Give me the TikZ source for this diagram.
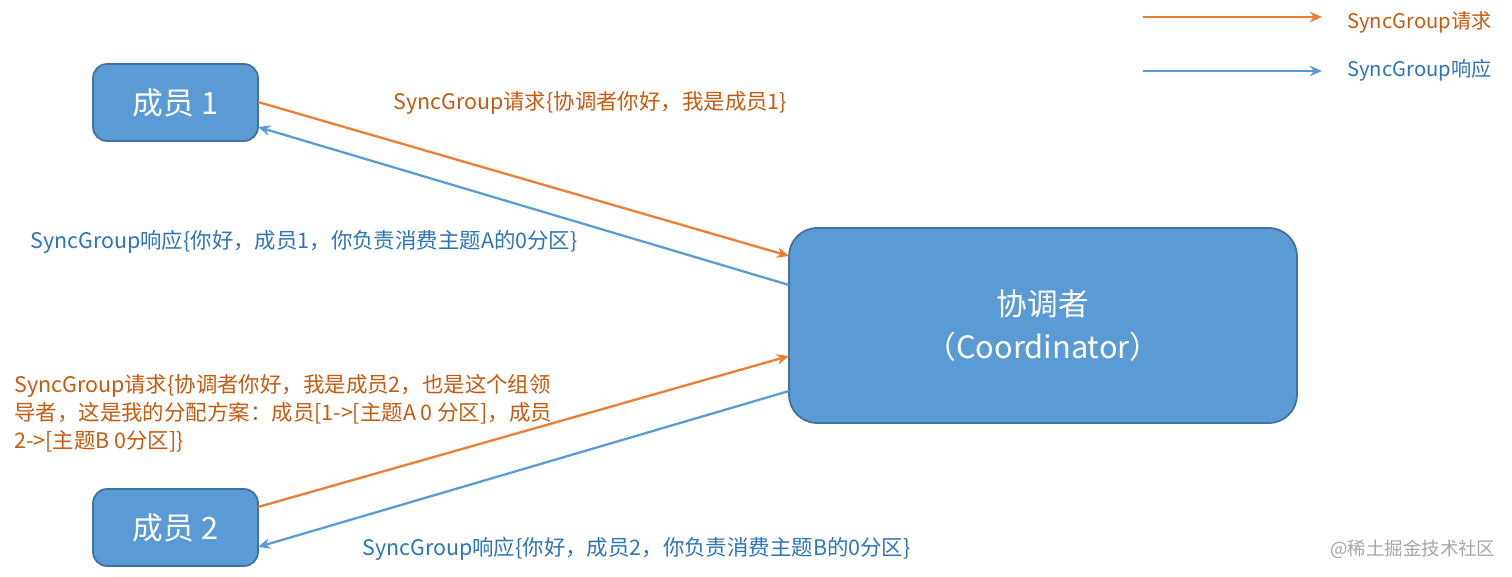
\documentclass[tikz,border=0pt]{standalone}
\usepackage{fontspec}
\setmainfont{Carlito}
\newfontfamily\cjk{Noto Sans CJK SC}
\usetikzlibrary{arrows.meta}
\definecolor{boxfill}{HTML}{5B9BD5}
\definecolor{boxline}{HTML}{41719C}
\definecolor{org}{HTML}{ED7D31}
\definecolor{orgtxt}{HTML}{C55A11}
\definecolor{blu}{HTML}{5B9BD5}
\definecolor{blutxt}{HTML}{2E75B6}
\tikzset{
  box/.style={draw=boxline,line width=1pt,fill=boxfill,rounded corners=8pt,text=white,font=\cjk\fontsize{17.5}{20}\selectfont,inner sep=0pt},
  req/.style={draw=org,line width=1.3pt,-{Stealth[length=7pt,width=6pt]}},
  rsp/.style={draw=blu,line width=1.3pt,-{Stealth[length=7pt,width=6pt]}},
  lab/.style={font=\cjk\fontsize{12.2}{15.9}\selectfont,anchor=west,inner sep=0pt,align=left}
}
\begin{document}
\begin{tikzpicture}[x=0.02cm,y=-0.02cm]
\useasboundingbox (0,0) rectangle (1512,577);
\node[box,minimum width=3.3cm,minimum height=1.54cm] (m1) at (175.5,102.5) {成员 1};
\node[box,minimum width=3.3cm,minimum height=1.54cm] (m2) at (175.5,527.5) {成员 2};
\node[box,rounded corners=16pt,minimum width=10.16cm,minimum height=3.9cm,align=center,font=\cjk\fontsize{17.5}{24}\selectfont] (co) at (1043,325.5) {协调者\\（Coordinator）};
\coordinate (m1a) at (258,102); \coordinate (coa) at (789,256);
\coordinate (cob) at (789,285); \coordinate (m1b) at (258,127);
\coordinate (m2a) at (258,507); \coordinate (coc) at (789,356);
\coordinate (cod) at (789,391); \coordinate (m2b) at (258,547);
\draw[req] (m1a) -- (coa);
\draw[rsp] (cob) -- (m1b);
\draw[req] (m2a) -- (coc);
\draw[rsp] (cod) -- (m2b);
\node[lab,text=orgtxt] (t1) at (393,103) {SyncGroup请求\{协调者你好，我是成员1\}};
\node[lab,text=blutxt] (t2) at (30,242) {SyncGroup响应\{你好，成员1，你负责消费主题A的0分区\}};
\node[lab,text=orgtxt] (t3) at (14,413) {SyncGroup请求\{协调者你好，我是成员2，也是这个组领\\导者，这是我的分配方案：成员[1->[主题A 0 分区]，成员\\2->[主题B 0分区]\}};
\node[lab,text=blutxt] (t4) at (362,549) {SyncGroup响应\{你好，成员2，你负责消费主题B的0分区\}};
\coordinate (l1a) at (1143,17); \coordinate (l1b) at (1322,17);
\coordinate (l2a) at (1143,71); \coordinate (l2b) at (1322,71);
\draw[req] (l1a) -- (l1b);
\draw[rsp] (l2a) -- (l2b);
\node[lab,text=orgtxt,font=\cjk\fontsize{11.5}{14}\selectfont] (lg1) at (1347,22) {SyncGroup请求};
\node[lab,text=blutxt,font=\cjk\fontsize{11.5}{14}\selectfont] (lg2) at (1347,70) {SyncGroup响应};
\node[lab,text=gray!70,font=\cjk\fontsize{10.5}{12}\selectfont] (wm) at (1330,549) {@稀土掘金技术社区};
\end{tikzpicture}
\end{document}
